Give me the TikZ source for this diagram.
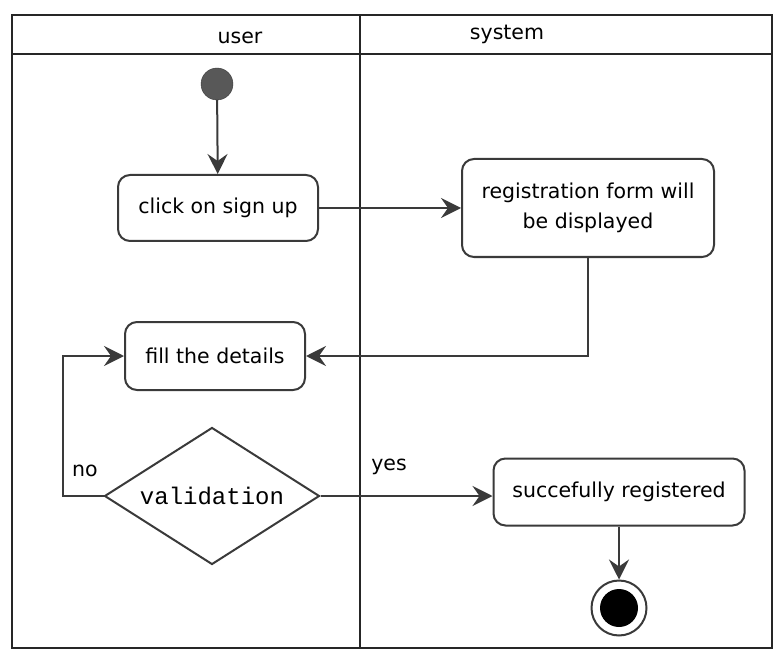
\documentclass[tikz,border=0pt]{standalone}
\usepackage{fontspec}
\setmainfont{DejaVu Sans}
\setmonofont{Liberation Mono}
\usetikzlibrary{shapes.geometric,arrows.meta}
\definecolor{ink}{HTML}{3A3A3A}
\tikzset{
  act/.style={draw=ink, line width=2pt, rounded corners=12pt, fill=white, align=center, font=\fontsize{20.5}{30}\selectfont, inner sep=2pt},
  flow/.style={draw=ink, line width=2pt, -{Stealth[length=20pt,width=20pt,inset=7pt]}},
  lane/.style={draw=black!85, line width=1.8pt},
  lbl/.style={font=\fontsize{20.5}{24}\selectfont, inner sep=0pt}
}
\begin{document}
\begin{tikzpicture}[x=1pt,y=-1pt]
\useasboundingbox (0,0) rectangle (773,652);
% swimlanes
\draw[lane] (12,15) rectangle (772,648);
\draw[lane] (12,54) -- (772,54);
\draw[lane] (360,15) -- (360,648);
\node[lbl] (hu) at (240,38) {user};
\node[lbl] (hs) at (507,34) {system};
% nodes
\node[circle, fill=ink!85, draw=ink, minimum size=32pt, inner sep=0pt] (start) at (217,84) {};
\node[act, minimum width=200pt, minimum height=66pt] (click) at (218,208) {click on sign up};
\node[act, minimum width=252pt, minimum height=98pt] (reg) at (588,208) {registration form will\\be displayed};
\node[act, minimum width=180pt, minimum height=68pt] (fill) at (215,356) {fill the details};
\node[diamond, aspect=1.57, draw=ink, line width=2pt, minimum width=215pt, minimum height=137pt, inner sep=0pt, font=\ttfamily\fontsize{24}{24}\selectfont] (dia) at (212,496) {validation};
\node[act, minimum width=251pt, minimum height=67pt] (succ) at (619,492) {succefully registered};
\node[circle, draw=ink, line width=2pt, minimum size=55pt, inner sep=0pt, fill=white] (final) at (619,608) {};
\node[circle, fill=black, minimum size=38pt, inner sep=0pt] (finalin) at (final.center) {};
\coordinate (noc) at (63,496);
% connectors
\draw[flow] (start) -- (click);
\draw[flow] (click.east) -- (click.east -| reg.west);
\draw[flow] (reg.south) |- (fill.east);
\draw[flow] (dia.west) -- (noc) |- (fill.west);
\draw[flow] (dia.east) -- (dia.east -| succ.west);
\draw[flow] (succ.south) -- (final.north);
\node[lbl] (no) at (85,471) {no};
\node[lbl] (yes) at (389,467) {yes};
\end{tikzpicture}
\end{document}
